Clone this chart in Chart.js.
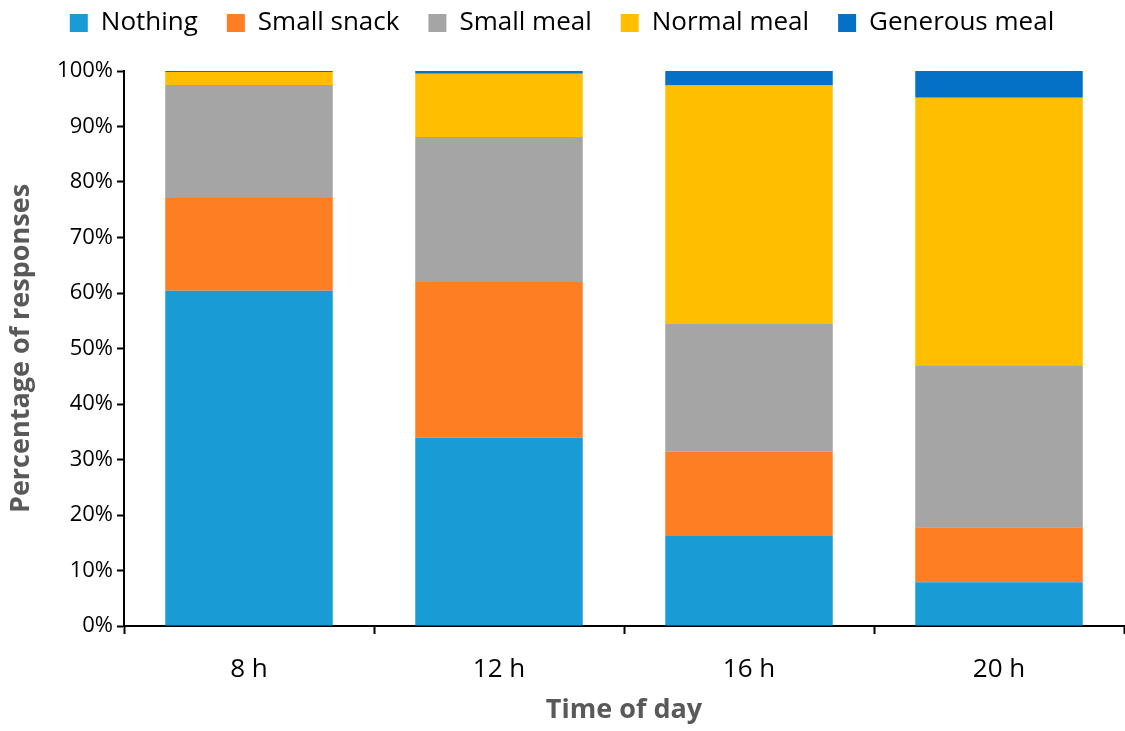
<!DOCTYPE html>
<html>
<head>
<meta charset="utf-8">
<script src="https://cdn.jsdelivr.net/npm/chart.js@4"></script>
<style>
  html, body { margin: 0; padding: 0; background: #fff; }
  #wrap { width: 1125px; height: 731px; }
</style>
</head>
<body>
<div id="wrap"><canvas id="chart" width="1125" height="731"></canvas></div>
<script>
// time of day categories
const categories = ["8 h", "12 h", "16 h", "20 h"];

// percentage of responses per answer
const nothing = [60.4, 33.9, 16.2, 7.9];
const smallSnack = [16.7, 28.1, 15.2, 9.9];
const smallMeal = [20.4, 26.1, 23.0, 29.2];
const normalMeal = [2.3, 11.4, 43.0, 48.2];
const generousMeal = [0.2, 0.5, 2.6, 4.8];

const yTicks = [0, 10, 20, 30, 40, 50, 60, 70, 80, 90, 100];

const font = "'Open Sans', sans-serif";

function ds(label, data, color) {
  return {
    label: label,
    data: data,
    backgroundColor: color,
    borderWidth: 0,
    barPercentage: 0.67,
    categoryPercentage: 1.0,
  };
}

// make room between legend and plot
const legendSpace = {
  id: "legendSpace",
  beforeInit(chart) {
    const fit = chart.legend.fit;
    chart.legend.fit = function () {
      fit.call(this);
      this.height = 90;
    };
  },
};

const ctx = document.getElementById("chart").getContext("2d");
new Chart(ctx, {
  type: "bar",
  data: {
    labels: categories,
    datasets: [
      ds("Nothing", nothing, "#199bd6"),
      ds("Small snack", smallSnack, "#fd7e23"),
      ds("Small meal", smallMeal, "#a5a5a5"),
      ds("Normal meal", normalMeal, "#ffbf00"),
      ds("Generous meal", generousMeal, "#0571c6"),
    ],
  },
  plugins: [legendSpace],
  options: {
    responsive: false,
    animation: false,
    layout: { padding: { top: -19, right: 1, left: 0, bottom: 0 } },
    plugins: {
      legend: {
        position: "top",
        labels: {
          boxWidth: 18,
          boxHeight: 18,
          padding: 29,
          color: "#000",
          font: { family: font, size: 26 },
        },
      },
      tooltip: { enabled: false },
    },
    scales: {
      x: {
        stacked: true,
        afterFit: (s) => { s.height = 105; },
        border: { color: "#000", width: 2 },
        grid: {
          offset: true,
          drawOnChartArea: false,
          drawTicks: true,
          tickLength: 8,
          tickWidth: 2,
          tickColor: "#000",
        },
        ticks: {
          color: "#000",
          padding: 20,
          font: { family: font, size: 26 },
        },
        title: {
          display: true,
          text: "Time of day",
          color: "#595959",
          font: { family: font, size: 27, weight: "bold" },
        },
      },
      y: {
        stacked: true,
        min: 0,
        max: 100,
        afterFit: (s) => { s.width = 124; },
        afterBuildTicks: (s) => { s.ticks = yTicks.map((v) => ({ value: v })); },
        border: { color: "#000", width: 2 },
        grid: {
          drawOnChartArea: false,
          drawTicks: true,
          tickLength: 7,
          tickWidth: 2,
          tickColor: "#000",
        },
        ticks: {
          color: "#000",
          padding: 4,
          font: { family: font, size: 22 },
          callback: (v) => v + "%",
        },
        title: {
          display: true,
          text: "Percentage of responses",
          color: "#595959",
          padding: { top: 5, bottom: 4 },
          font: { family: font, size: 27, weight: "bold" },
        },
      },
    },
  },
});
</script>
</body>
</html>
